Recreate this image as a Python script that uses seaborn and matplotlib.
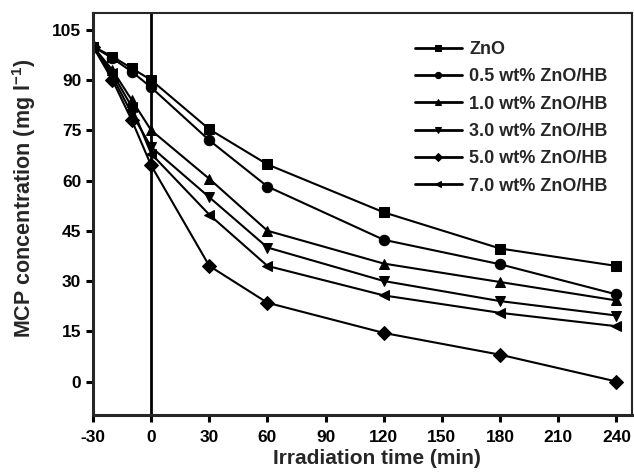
import matplotlib
matplotlib.use('Agg')
import matplotlib.pyplot as plt
import seaborn as sns
import pandas as pd

# Irradiation times (min), -30..0 is the dark adsorption stage
times = [-30, -20, -10, 0, 30, 60, 120, 180, 240]

samples = ['ZnO', '0.5 wt% ZnO/HB', '1.0 wt% ZnO/HB',
           '3.0 wt% ZnO/HB', '5.0 wt% ZnO/HB', '7.0 wt% ZnO/HB']

zno = [100, 97, 93.5, 90, 75.3, 64.8, 50.5, 39.7, 34.5]
zno_05 = [100, 96.5, 92.5, 87.8, 72, 58.2, 42.3, 35, 26]
zno_10 = [100, 93, 84, 75, 60.5, 45, 35.2, 29.7, 24.2]
zno_30 = [100, 91, 80, 70, 55, 40, 30, 24, 19.7]
zno_50 = [100, 90, 78, 64.5, 34.5, 23.5, 14.5, 8, 0]
zno_70 = [100, 92, 82, 68, 49.8, 34.5, 25.7, 20.5, 16.5]

series = [zno, zno_05, zno_10, zno_30, zno_50, zno_70]
markers = ['s', 'o', '^', 'v', 'D', '<']

rows = []
for name, vals in zip(samples, series):
    for t, v in zip(times, vals):
        rows.append({'time': t, 'conc': v, 'sample': name})
df = pd.DataFrame(rows)

sns.set_style('ticks')
plt.rcParams['font.family'] = ['Liberation Sans', 'DejaVu Sans']
plt.rcParams['font.weight'] = 'bold'
plt.rcParams['axes.unicode_minus'] = False
plt.rcParams['mathtext.fontset'] = 'custom'
plt.rcParams['mathtext.bf'] = 'Liberation Sans:bold'
plt.rcParams['mathtext.rm'] = 'Liberation Sans:bold'

fig = plt.figure(figsize=(6.34, 4.75), dpi=100)
ax = fig.add_axes([0.1467, 0.1263, 0.85, 0.8463])

sns.lineplot(data=df, x='time', y='conc', hue='sample', style='sample',
             palette=['black'] * 6, markers=markers, dashes=False,
             markersize=7.5, markeredgecolor='black', linewidth=1.5, ax=ax)

ax.axvline(0, color='black', lw=2, zorder=0)

ax.set_xlim(-30, 248)
ax.set_ylim(-10, 110)
ax.set_xticks(range(-30, 241, 30))
ax.set_yticks(range(0, 106, 15))

for s in ['left', 'bottom']:
    ax.spines[s].set_linewidth(2.2)
for s in ['top', 'right']:
    ax.spines[s].set_linewidth(1.5)
ax.tick_params(direction='out', length=5, width=2.2, labelsize=12.5, colors='black')
ax.tick_params(axis='x', pad=6)
for lab in ax.get_xticklabels() + ax.get_yticklabels():
    lab.set_fontweight('bold')

ax.set_xlabel('Irradiation time (min)', fontsize=15, fontweight='bold')
ax.set_ylabel(r'MCP concentration (mg l$^{\mathbf{-1}}$)', fontsize=15.5, fontweight='bold')
ax.xaxis.set_label_coords(0.526, -0.085)
ax.yaxis.set_label_coords(-0.103, 0.54)

leg = ax.legend(loc='upper left', bbox_to_anchor=(0.584, 0.948), frameon=False,
                borderaxespad=0, handlelength=2.6, handletextpad=0.4,
                markerscale=0.6, labelspacing=0.57,
                prop={'size': 13, 'weight': 'bold'})
for line in leg.get_lines():
    line.set_linewidth(2)

fig.savefig('out.png', dpi=100)
